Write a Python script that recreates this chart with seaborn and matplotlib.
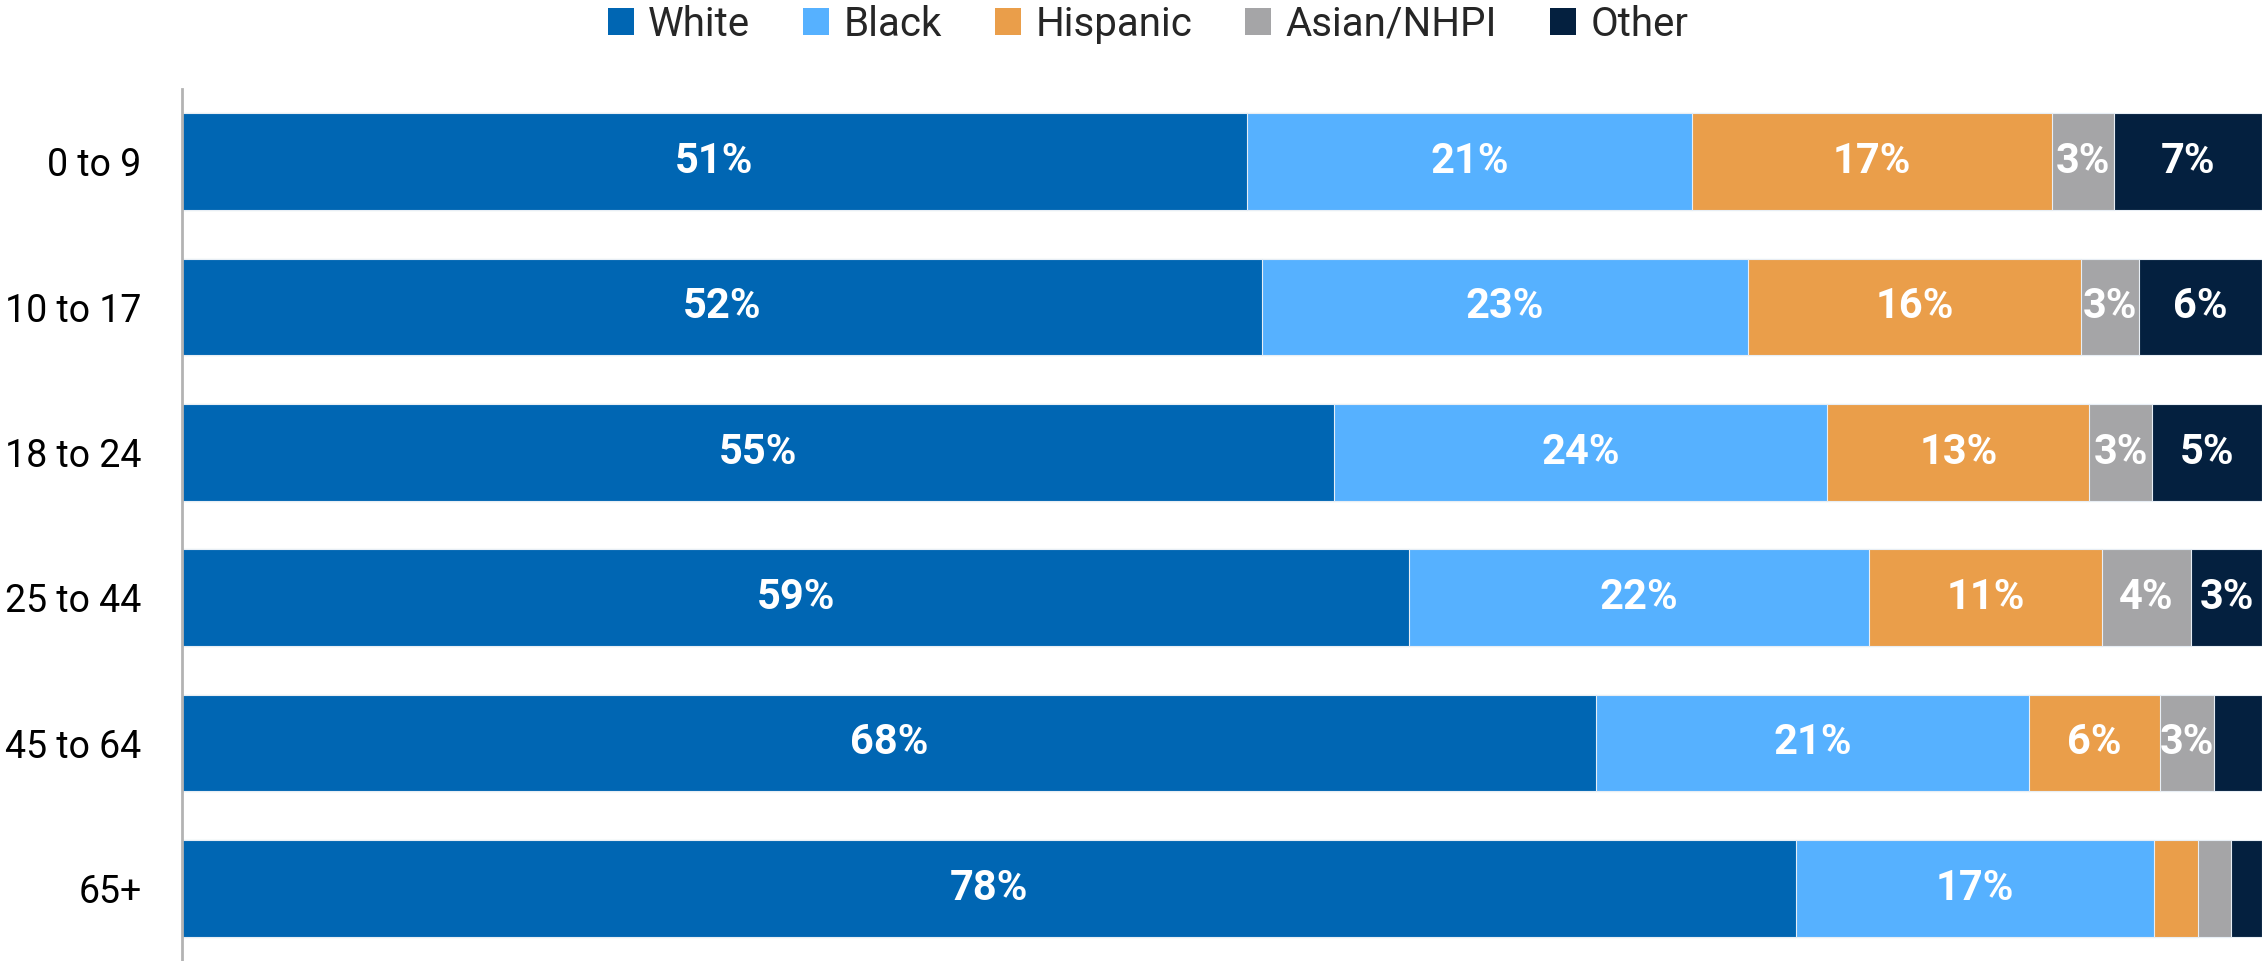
import numpy as np
import pandas as pd
import seaborn as sns
import matplotlib.pyplot as plt
from matplotlib.patches import Patch

sns.set_theme(style="white")
plt.rcParams["font.family"] = ["Roboto", "DejaVu Sans"]

ages = ["0 to 9", "10 to 17", "18 to 24", "25 to 44", "45 to 64", "65+"]
groups = ["White", "Black", "Hispanic", "Asian/NHPI", "Other"]
white = [51.2, 51.9, 55.4, 59.0, 68.0, 77.6]
black = [21.4, 23.4, 23.7, 22.1, 20.8, 17.2]
hispanic = [17.3, 16.0, 12.6, 11.2, 6.3, 2.1]
asian = [3.0, 2.8, 3.0, 4.3, 2.6, 1.6]
other = [7.1, 5.9, 5.3, 3.4, 2.3, 1.5]
colors = ["#0066b3", "#56b1ff", "#ea9e4a", "#a5a5a7", "#04203f"]

df = pd.DataFrame({"age": ages, "White": white, "Black": black,
                   "Hispanic": hispanic, "Asian/NHPI": asian, "Other": other})
cum = df[groups].cumsum(axis=1)

fig = plt.figure(figsize=(22.62, 9.61), dpi=100)
ax = fig.add_axes([182 / 2262, 0, 1 - 182 / 2262, 1 - 89 / 961])

# overlay cumulative bars, longest first
for g, c in reversed(list(zip(groups, colors))):
    sns.barplot(x=cum[g], y=df["age"], color=c, orient="h", width=0.667,
                edgecolor="#e8eef5", linewidth=0.8, saturation=1, ax=ax)

for g in groups:
    for i, (v, end) in enumerate(zip(df[g], cum[g])):
        if round(v) >= 3:
            ax.text(end - v / 2, i, f"{round(v)}%", ha="center", va="center",
                    color="white", fontsize=30, fontweight="bold")

ax.set_xlim(0, 100)
ax.set_ylim(5.5, -0.5)
ax.set_xlabel("")
ax.set_ylabel("")
ax.set_xticks([])
ax.tick_params(axis="y", length=0, labelsize=27, pad=29, colors="black")
for s in ["top", "right", "bottom"]:
    ax.spines[s].set_visible(False)
ax.spines["left"].set_color("#b3b3b3")
ax.spines["left"].set_linewidth(2)

handles = [Patch(facecolor=c, edgecolor="none", label=g) for g, c in zip(groups, colors)]
fig.legend(handles=handles, loc="center", bbox_to_anchor=(0.5075, 1 - 24 / 961), ncol=5,
           frameon=False, fontsize=29, handlelength=0.65, handleheight=0.65,
           handletextpad=0.35, columnspacing=1.32, borderpad=0, borderaxespad=0)

fig.savefig("out.png", dpi=100)
